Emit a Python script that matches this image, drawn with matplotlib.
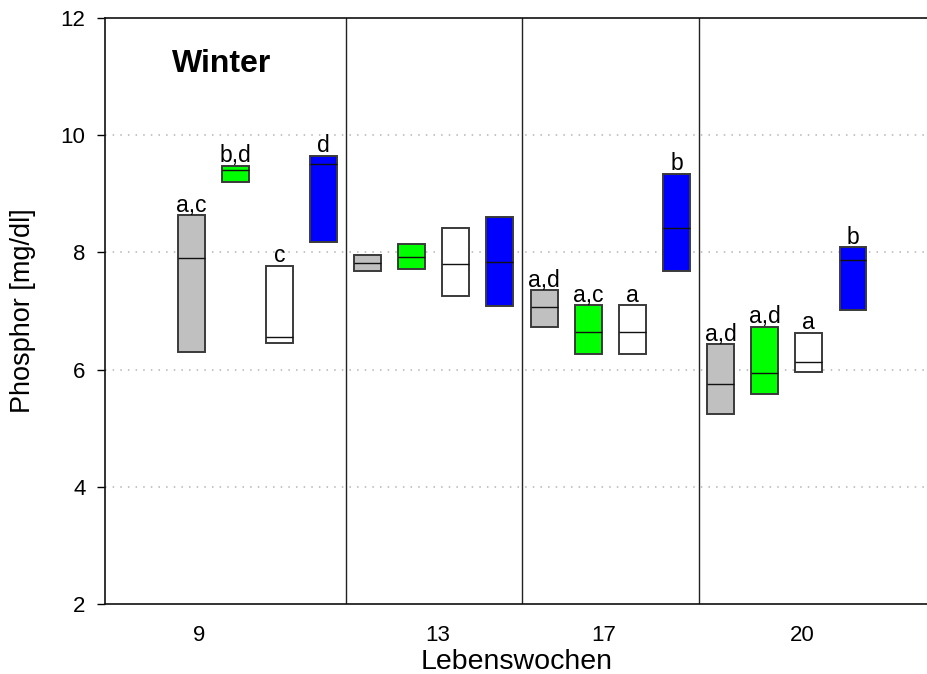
import matplotlib
matplotlib.use("Agg")
import matplotlib.pyplot as plt

plt.rcParams['font.family'] = ['Liberation Sans', 'DejaVu Sans']

# four groups (weeks of life), four boxes per group
week_labels = ["9", "13", "17", "20"]
week_tick_pos = [1.18, 6.60, 10.36, 14.85]
group_bounds = [4.5, 8.5, 12.5]

box_colors = ["#c0c0c0", "#00ff00", "#ffffff", "#0000ff"] * 4

q_low = [6.30, 9.20, 6.45, 8.17,
         7.68, 7.72, 7.25, 7.09,
         6.73, 6.27, 6.27, 7.68,
         5.24, 5.58, 5.96, 7.02]
q_med = [7.91, 9.40, 6.56, 9.51,
         7.82, 7.93, 7.80, 7.84,
         7.06, 6.65, 6.65, 8.42,
         5.75, 5.95, 6.13, 7.87]
q_high = [8.63, 9.48, 7.77, 9.65,
          7.95, 8.14, 8.41, 8.61,
          7.35, 7.10, 7.10, 9.34,
          6.43, 6.73, 6.63, 8.09]

sig_letters = ["a,c", "b,d", "c", "d",
               "", "", "", "",
               "a,d", "a,c", "a", "b",
               "a,d", "a,d", "a", "b"]

positions = list(range(1, len(q_low) + 1))
box_width = 0.61

fig = plt.figure(figsize=(9.28, 6.74), dpi=100)
ax = fig.add_axes([105 / 928, 1 - 604 / 674, 1 - 105 / 928, (604 - 18) / 674])

# dotted reference lines
for yv in [4, 6, 8, 10]:
    ax.axhline(yv, color="#b4b4b4", linestyle=(0, (1, 4)), linewidth=1.1, zorder=0)

for xb in group_bounds:
    ax.axvline(xb, color="#222222", linewidth=1.0, zorder=1)

heights = [h - l for l, h in zip(q_low, q_high)]
ax.bar(positions, heights, bottom=q_low, width=box_width, color=box_colors,
       edgecolor="#3a3a3a", linewidth=1.4, zorder=2)
ax.hlines(q_med, [p - box_width / 2 for p in positions],
          [p + box_width / 2 for p in positions], color="#111111",
          linewidth=1.0, zorder=3)

for p, top, txt in zip(positions, q_high, sig_letters):
    if txt:
        ax.annotate(txt, (p, top), xytext=(0, 2.5), textcoords="offset points",
                    ha="center", va="baseline", fontsize=16.5)

ax.text(1.70, 11.07, "Winter", ha="center", va="baseline",
        fontsize=23, fontweight="bold")

ax.set_xlim(-0.95, 17.70)
ax.set_ylim(2, 12)
ax.set_yticks([2, 4, 6, 8, 10, 12])
ax.set_xticks(week_tick_pos)
ax.set_xticklabels(week_labels)
ax.tick_params(axis="x", length=0, labelsize=16, pad=15)
ax.tick_params(axis="y", length=6, width=1, labelsize=16, pad=8)

ax.spines["right"].set_visible(False)
for s in ["left", "bottom", "top"]:
    ax.spines[s].set_linewidth(1.2)
    ax.spines[s].set_color("#111111")

ax.set_xlabel("Lebenswochen", fontsize=20.5, labelpad=2)
ax.set_ylabel("Phosphor [mg/dl]", fontsize=19.5, labelpad=18)

fig.savefig("out.png", dpi=100)
